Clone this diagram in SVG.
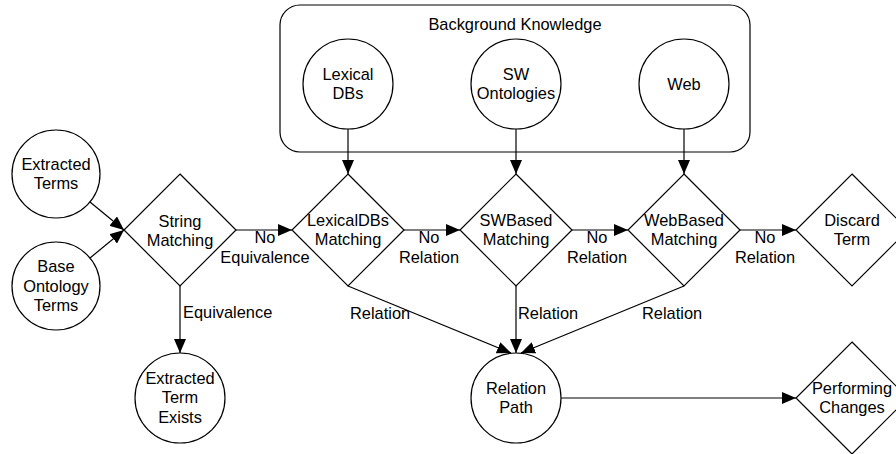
<svg xmlns="http://www.w3.org/2000/svg" width="896" height="454" viewBox="0 0 896 454">
<style>
.s{fill:#fff;stroke:#000;stroke-width:1.2}
.t{font-family:"Liberation Sans",Arial,sans-serif;font-size:16.4px;fill:#000;text-anchor:middle}
.l{font-family:"Liberation Sans",Arial,sans-serif;font-size:16.4px;fill:#000}
.c{fill:none;stroke:#000;stroke-width:1.2;marker-end:url(#ah)}
</style>
<defs>
<marker id="ah" markerUnits="userSpaceOnUse" markerWidth="14" markerHeight="12" refX="14" refY="6" orient="auto">
<path d="M0,0 L14,6 L0,12 z" fill="#000"/>
</marker>
</defs>
<rect width="896" height="454" fill="#fff"/>
<g id="background-knowledge">
<rect class="s" x="280" y="5" width="470" height="147" rx="20" ry="20"/>
<text class="t" x="515" y="30">Background Knowledge</text>
</g>
<g id="lexical-dbs">
<circle class="s" cx="348" cy="84" r="45"/>
<text class="t" x="348" y="80">Lexical</text>
<text class="t" x="348" y="99">DBs</text>
</g>
<g id="sw-ontologies">
<circle class="s" cx="516" cy="84" r="45"/>
<text class="t" x="516" y="80">SW</text>
<text class="t" x="516" y="99">Ontologies</text>
</g>
<g id="web">
<circle class="s" cx="684" cy="84" r="45"/>
<text class="t" x="684" y="90">Web</text>
</g>
<g id="extracted-terms">
<circle class="s" cx="56" cy="174" r="44"/>
<text class="t" x="56" y="170">Extracted</text>
<text class="t" x="56" y="189">Terms</text>
</g>
<g id="base-ontology-terms">
<circle class="s" cx="56" cy="286" r="44"/>
<text class="t" x="56" y="272">Base</text>
<text class="t" x="56" y="291.5">Ontology</text>
<text class="t" x="56" y="311">Terms</text>
</g>
<g id="string-matching">
<path class="s" d="M180,174 L236,230 L180,286 L124,230 Z"/>
<text class="t" x="180" y="227">String</text>
<text class="t" x="180" y="246">Matching</text>
</g>
<g id="lexicaldbs-matching">
<path class="s" d="M348,174 L404,230 L348,286 L292,230 Z"/>
<text class="t" x="348" y="226">LexicalDBs</text>
<text class="t" x="348" y="245">Matching</text>
</g>
<g id="swbased-matching">
<path class="s" d="M516,174 L572,230 L516,286 L460,230 Z"/>
<text class="t" x="516" y="226">SWBased</text>
<text class="t" x="516" y="245">Matching</text>
</g>
<g id="webbased-matching">
<path class="s" d="M684,174 L740,230 L684,286 L628,230 Z"/>
<text class="t" x="684" y="226">WebBased</text>
<text class="t" x="684" y="245">Matching</text>
</g>
<g id="discard-term">
<path class="s" d="M852,174 L908,230 L852,286 L796,230 Z"/>
<text class="t" x="852" y="226">Discard</text>
<text class="t" x="852" y="245">Term</text>
</g>
<g id="extracted-term-exists">
<circle class="s" cx="180" cy="398" r="45"/>
<text class="t" x="180" y="383.5">Extracted</text>
<text class="t" x="180" y="403">Term</text>
<text class="t" x="180" y="422.5">Exists</text>
</g>
<g id="relation-path">
<circle class="s" cx="516" cy="398" r="45"/>
<text class="t" x="516" y="394">Relation</text>
<text class="t" x="516" y="413">Path</text>
</g>
<g id="performing-changes">
<path class="s" d="M852,342 L908,398 L852,454 L796,398 Z"/>
<text class="t" x="852" y="394">Performing</text>
<text class="t" x="852" y="413">Changes</text>
</g>
<g id="connectors">
<line class="c" x1="348" y1="129" x2="348" y2="174"/>
<line class="c" x1="516" y1="129" x2="516" y2="174"/>
<line class="c" x1="684" y1="129" x2="684" y2="174"/>
<line class="c" x1="90" y1="202" x2="124" y2="230"/>
<line class="c" x1="90" y1="258" x2="124" y2="230"/>
<line class="c" x1="236" y1="230" x2="292" y2="230"/>
<line class="c" x1="404" y1="230" x2="460" y2="230"/>
<line class="c" x1="572" y1="230" x2="628" y2="230"/>
<line class="c" x1="740" y1="230" x2="796" y2="230"/>
<line class="c" x1="180" y1="286" x2="180" y2="353"/>
<line class="c" x1="348" y1="286" x2="511" y2="353"/>
<line class="c" x1="516" y1="286" x2="516" y2="353"/>
<line class="c" x1="684" y1="286" x2="521" y2="353"/>
<line class="c" x1="561" y1="398" x2="796" y2="398"/>
<text class="t" x="265" y="243">No</text>
<text class="t" x="265" y="263">Equivalence</text>
<text class="t" x="429" y="243">No</text>
<text class="t" x="429" y="263">Relation</text>
<text class="t" x="597" y="243">No</text>
<text class="t" x="597" y="263">Relation</text>
<text class="t" x="765" y="243">No</text>
<text class="t" x="765" y="263">Relation</text>
<text class="l" x="183" y="318">Equivalence</text>
<text class="l" x="350" y="319">Relation</text>
<text class="l" x="518" y="319">Relation</text>
<text class="l" x="642" y="319">Relation</text>
</g>
</svg>
